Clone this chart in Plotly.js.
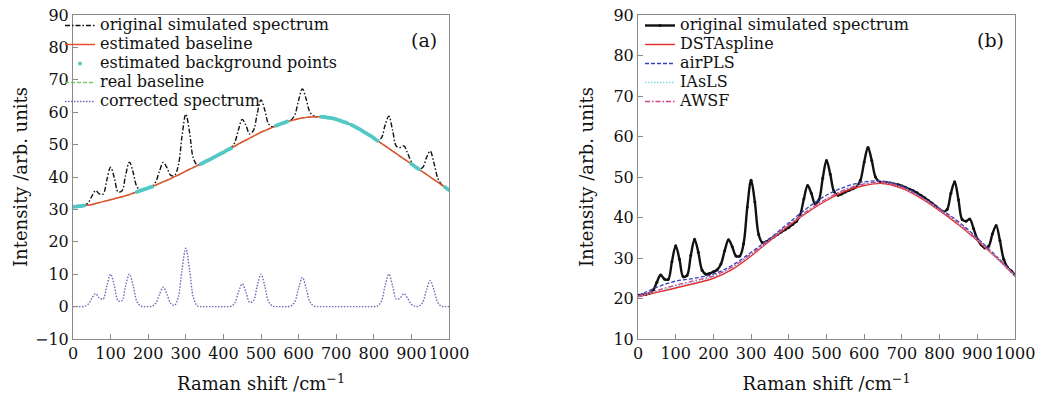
<!DOCTYPE html>
<html>
<head>
<meta charset="utf-8">
<script src="https://cdn.plot.ly/plotly-3.0.1.min.js"></script>
<style>html,body{margin:0;padding:0;background:#fff;}#chart{width:1040px;height:398px;}</style>
</head>
<body>
<div id="chart"></div>
<script>
// Raman shift grid (cm^-1)
const ramanShift = [0,10,20,30,40,50,60,70,80,90,100,110,120,130,140,150,160,170,180,190,200,210,220,230,240,250,260,270,280,290,300,310,320,330,340,350,360,370,380,390,400,410,420,430,440,450,460,470,480,490,500,510,520,530,540,550,560,570,580,590,600,610,620,630,640,650,660,670,680,690,700,710,720,730,740,750,760,770,780,790,800,810,820,830,840,850,860,870,880,890,900,910,920,930,940,950,960,970,980,990,1000];

// Panel (a)
const originalA = [30.8,30.9,31.0,31.3,32.0,34.0,35.8,34.8,34.7,39.1,
  43.0,39.7,35.4,35.7,40.6,44.6,41.4,37.0,36.0,36.2,
  36.6,37.1,38.5,41.8,44.5,42.8,40.5,40.5,43.5,52.6,
  59.4,53.8,45.8,43.8,44.0,44.6,45.2,45.8,46.4,47.0,
  47.6,48.3,49.0,50.6,54.6,57.8,55.9,53.3,54.4,59.6,
  63.8,60.7,56.4,55.5,55.8,56.3,56.7,57.1,57.6,59.2,
  63.7,67.2,64.1,60.0,58.8,58.6,58.6,58.5,58.3,58.1,
  57.8,57.4,57.0,56.6,56.1,55.5,54.9,54.2,53.5,52.8,
  52.0,51.4,52.0,56.0,58.8,54.4,49.5,49.1,49.6,47.3,
  44.7,43.3,42.5,42.9,45.9,48.0,44.3,39.7,37.7,36.8,
  36.0];
const estBaselineA = [30.8,30.9,31.0,31.2,31.3,31.5,31.8,32.1,32.4,32.7,
  33.0,33.3,33.6,33.9,34.2,34.6,35.0,35.4,35.8,36.2,
  36.6,37.0,37.5,38.0,38.5,39.0,39.5,40.1,40.6,41.2,
  41.8,42.4,42.9,43.5,44.0,44.6,45.2,45.8,46.4,47.0,
  47.6,48.3,48.9,49.5,50.2,50.8,51.4,52.0,52.6,53.2,
  53.8,54.3,54.8,55.3,55.8,56.3,56.7,57.1,57.4,57.7,
  58.0,58.2,58.4,58.5,58.6,58.6,58.6,58.5,58.3,58.1,
  57.8,57.4,57.0,56.6,56.1,55.5,54.9,54.2,53.5,52.8,
  52.0,51.2,50.4,49.6,48.8,48.0,47.2,46.4,45.6,44.8,
  44.0,43.2,42.4,41.6,40.8,40.0,39.2,38.4,37.6,36.8,
  36.0];
const realBaselineA = [30.8,30.9,31.0,31.2,31.3,31.5,31.8,32.1,32.4,32.7,
  33.0,33.3,33.6,33.9,34.2,34.6,35.0,35.4,35.8,36.2,
  36.6,37.0,37.5,38.0,38.5,39.0,39.5,40.1,40.6,41.2,
  41.8,42.4,42.9,43.5,44.0,44.6,45.2,45.8,46.4,47.0,
  47.6,48.3,48.9,49.5,50.2,50.8,51.4,52.0,52.6,53.2,
  53.8,54.3,54.8,55.3,55.8,56.3,56.7,57.1,57.4,57.7,
  58.0,58.2,58.4,58.5,58.6,58.6,58.6,58.5,58.3,58.1,
  57.8,57.4,57.0,56.6,56.1,55.5,54.9,54.2,53.5,52.8,
  52.0,51.2,50.4,49.6,48.8,48.0,47.2,46.4,45.6,44.8,
  44.0,43.2,42.4,41.6,40.8,40.0,39.2,38.4,37.6,36.8,
  36.0];
const correctedA = [0,0,0,0.1,0.7,2.5,4.0,2.7,2.3,6.4,
  10.0,6.4,1.8,1.8,6.4,10.0,6.4,1.6,0.2,0,
  0,0.1,1.0,3.8,6.0,3.8,1.0,0.4,2.9,11.4,
  18.0,11.4,2.9,0.3,0,0,0,0,0,0,
  0,0,0.1,1.1,4.4,7.0,4.5,1.3,1.8,6.4,
  10.0,6.4,1.6,0.2,0,0,0,0,0.2,1.5,
  5.7,9.0,5.7,1.5,0.2,0,0,0,0,0,
  0,0,0,0,0,0,0,0,0,0,
  0,0.2,1.6,6.4,10.0,6.4,2.3,2.7,4.0,2.5,
  0.7,0.1,0.1,1.3,5.1,8.0,5.1,1.3,0.1,0,
  0];
const bgPointsX = [0,5,10,15,20,25,30,170,175,180,185,190,195,200,205,210,340,345,350,355,360,365,370,375,380,385,390,395,400,405,410,415,420,540,545,550,555,560,565,570,660,665,670,675,680,685,690,695,700,705,710,715,720,725,730,740,745,750,755,760,765,770,775,780,785,790,795,800,805,810,900,905,910,915,920,990,995,1000];
const bgPointsY = [30.8,30.85,30.9,30.95,31.0,31.1,31.2,35.4,35.6,35.8,36.0,36.2,36.4,36.6,36.8,37.0,44.0,44.3,44.6,44.9,45.2,45.5,45.8,46.1,46.4,46.7,47.0,47.3,47.6,47.95,48.3,48.6,48.9,55.8,56.05,56.3,56.5,56.7,56.9,57.1,58.6,58.55,58.5,58.4,58.3,58.2,58.1,57.95,57.8,57.6,57.4,57.2,57.0,56.8,56.6,56.1,55.8,55.5,55.2,54.9,54.55,54.2,53.85,53.5,53.15,52.8,52.4,52.0,51.6,51.2,44.0,43.6,43.2,42.8,42.4,36.8,36.4,36.0];

// Panel (b)
const originalB = [20.8,20.9,21.0,21.3,22.0,24.0,25.8,24.8,24.7,29.1,
  33.0,29.7,25.4,25.7,30.6,34.6,31.4,27.0,26.0,26.2,
  26.6,27.1,28.5,31.8,34.5,32.8,30.5,30.5,33.5,42.6,
  49.2,43.8,35.8,33.8,34.0,34.6,35.2,35.8,36.4,37.0,
  37.6,38.3,39.0,40.6,44.6,47.9,45.9,43.3,44.4,49.7,
  54.1,50.7,46.4,45.5,45.8,46.3,46.7,47.1,47.6,49.2,
  53.7,57.3,54.1,50.0,48.8,48.6,48.6,48.5,48.3,48.1,
  47.8,47.4,47.0,46.6,46.1,45.5,44.9,44.2,43.5,42.8,
  42.0,41.4,42.0,46.0,48.8,44.4,39.5,39.1,39.6,37.3,
  34.7,33.3,32.5,32.9,35.9,38.0,34.3,29.7,27.7,26.8,
  25.8];
const baseShiftB = [0,50,100,150,200,250,300,350,400,450,500,550,600,650,700,750,800,850,900,950,1000];
const dstaSplineB = [20.4,21.5,22.6,23.7,25.0,27.2,30.5,34.3,38.0,41.3,44.2,46.5,47.9,48.4,47.2,44.8,41.7,38.2,34.3,30.1,25.6];
const airPLSB = [20.6,22.8,24.3,25.0,26.0,28.2,31.4,34.9,38.7,42.4,45.5,47.6,48.8,49.0,47.8,45.2,42.2,39.0,34.9,30.5,25.7];
const iAsLSB = [20.5,21.8,23.0,24.1,25.4,27.6,30.9,34.5,38.2,41.6,44.6,46.9,48.2,48.6,47.4,45.0,41.9,38.5,34.5,30.2,25.7];
const awsfB = [20.6,22.0,23.3,24.4,25.6,27.8,31.0,34.6,38.3,41.7,44.6,46.9,48.3,48.7,47.5,45.0,42.0,38.6,34.6,30.3,25.7];

const xTicks = [0,100,200,300,400,500,600,700,800,900,1000];
const yTicksA = [-10,0,10,20,30,40,50,60,70,80,90];
const yTicksB = [10,20,30,40,50,60,70,80,90];

const FONT = 'DejaVu Serif, serif';
const lg = s => '<span style="font-size:16px">' + s + '</span>';

const traces = [
  // (a)
  {x: ramanShift, y: realBaselineA, xaxis:'x', yaxis:'y', name:lg('real baseline'), legend:'legend', legendrank:4,
   mode:'lines', line:{color:'#7cc66a', width:1.3, dash:'4px,2px', shape:'spline'}},
  {x: ramanShift, y: originalA, xaxis:'x', yaxis:'y', name:lg('original simulated spectrum'), legend:'legend', legendrank:1,
   mode:'lines', line:{color:'#111111', width:1.4, dash:'5px,2px,1.5px,2px', shape:'spline'}},
  {x: ramanShift, y: estBaselineA, xaxis:'x', yaxis:'y', name:lg('estimated baseline'), legend:'legend', legendrank:2,
   mode:'lines', line:{color:'#e2502e', width:1.5, shape:'spline'}},
  {x: bgPointsX, y: bgPointsY, xaxis:'x', yaxis:'y', name:lg('estimated background points'), legend:'legend', legendrank:3,
   mode:'markers', marker:{color:'#52c8c4', size:4, line:{width:0}}},
  {x: ramanShift, y: correctedA, xaxis:'x', yaxis:'y', name:lg('corrected spectrum'), legend:'legend', legendrank:5,
   mode:'lines', line:{color:'#6b6bb8', width:1.4, dash:'1.5px,1.5px', shape:'spline'}},
  // (b)
  {x: ramanShift, y: originalB, xaxis:'x2', yaxis:'y2', name:lg('original simulated spectrum'), legend:'legend2', legendrank:1,
   mode:'lines+markers', line:{color:'#111111', width:2.4, shape:'spline'}, marker:{color:'#111111', size:3}},
  {x: baseShiftB, y: dstaSplineB, xaxis:'x2', yaxis:'y2', name:lg('DSTAspline'), legend:'legend2', legendrank:2,
   mode:'lines', line:{color:'#e62a2a', width:1.4, shape:'spline'}},
  {x: baseShiftB, y: airPLSB, xaxis:'x2', yaxis:'y2', name:lg('airPLS'), legend:'legend2', legendrank:3,
   mode:'lines', line:{color:'#3444b8', width:1.3, dash:'4px,2px', shape:'spline'}},
  {x: baseShiftB, y: iAsLSB, xaxis:'x2', yaxis:'y2', name:lg('IAsLS'), legend:'legend2', legendrank:4,
   mode:'lines', line:{color:'#86d4e4', width:1.3, dash:'1.5px,1.5px', shape:'spline'}},
  {x: baseShiftB, y: awsfB, xaxis:'x2', yaxis:'y2', name:lg('AWSF'), legend:'legend2', legendrank:5,
   mode:'lines', line:{color:'#d2428c', width:1.3, dash:'5px,2px,1.5px,2px', shape:'spline'}}
];

const axisBase = {
  showgrid:false, zeroline:false, showline:true, mirror:true,
  linecolor:'#8a8a8a', linewidth:1, ticks:'inside', ticklen:5, tickcolor:'#8a8a8a', tickwidth:1,
  tickangle:0,
  tickfont:{family:FONT, size:16, color:'#111'}
};
const titleFont = {family:FONT, size:18, color:'#111'};

const layout = {
  width:1040, height:398,
  margin:{l:0, r:0, t:15, b:59},
  paper_bgcolor:'#ffffff', plot_bgcolor:'#ffffff',
  font:{family:FONT, color:'#111'},
  showlegend:true,
  xaxis: Object.assign({}, axisBase, {domain:[73/1040, 449/1040], range:[0,1000], tickvals:xTicks, ticktext:xTicks.map(String), anchor:'y',
    title:{text:'Raman shift /cm<sup>−1</sup>', font:titleFont, standoff:15}}),
  yaxis: Object.assign({}, axisBase, {domain:[0,1], range:[-10,90], tickvals:yTicksA, anchor:'x',
    title:{text:'Intensity /arb. units', font:titleFont, standoff:2}}),
  xaxis2: Object.assign({}, axisBase, {domain:[638/1040, 1015/1040], range:[0,1000], tickvals:xTicks, ticktext:xTicks.map(String), anchor:'y2',
    title:{text:'Raman shift /cm<sup>−1</sup>', font:titleFont, standoff:15}}),
  yaxis2: Object.assign({}, axisBase, {domain:[0,1], range:[10,90], tickvals:yTicksB, anchor:'x2',
    title:{text:'Intensity /arb. units', font:titleFont, standoff:15}}),
  legend: {x:60/1040, y:1 + 4/324, xanchor:'left', yanchor:'top', bgcolor:'rgba(0,0,0,0)', borderwidth:0,
    font:{family:FONT, size:12.2, color:'#111'}, itemwidth:30, tracegroupgap:0, traceorder:'normal'},
  legend2: {x:640/1040, y:1 + 4/324, xanchor:'left', yanchor:'top', bgcolor:'rgba(0,0,0,0)', borderwidth:0,
    font:{family:FONT, size:12.2, color:'#111'}, itemwidth:30, tracegroupgap:0, traceorder:'normal'},
  annotations: [
    {text:'(a)', xref:'paper', yref:'paper', x:424/1040, y:(339-40)/324, xanchor:'center', yanchor:'middle', showarrow:false,
     font:{family:FONT, size:19, color:'#111'}},
    {text:'(b)', xref:'paper', yref:'paper', x:990/1040, y:(339-40)/324, xanchor:'center', yanchor:'middle', showarrow:false,
     font:{family:FONT, size:19, color:'#111'}}
  ]
};

Plotly.newPlot('chart', traces, layout, {staticPlot:true, displayModeBar:false});
</script>
</body>
</html>
